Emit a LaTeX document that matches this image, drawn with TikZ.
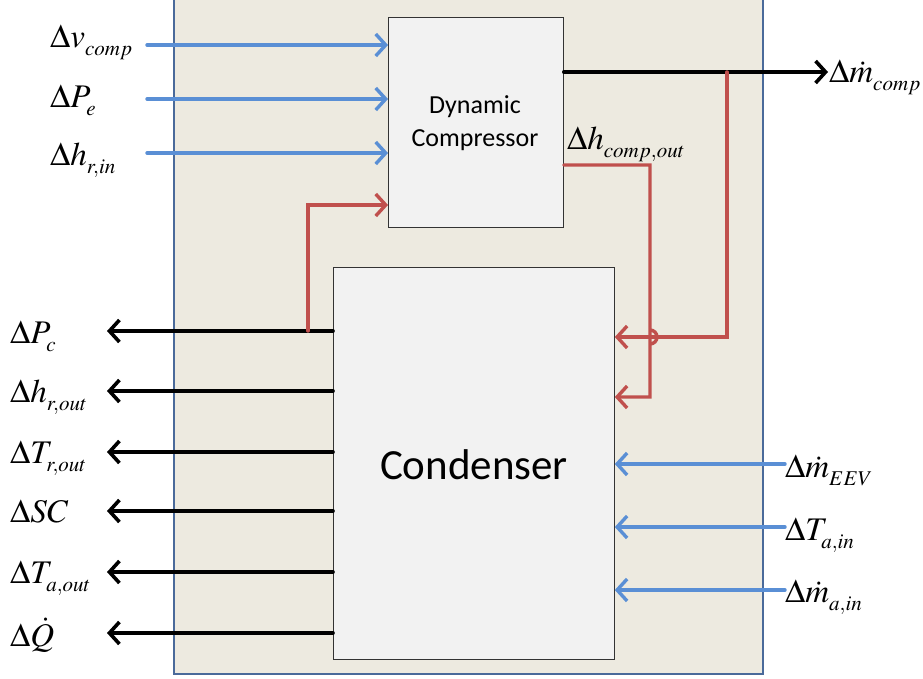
\documentclass[tikz,border=0pt]{standalone}
\usepackage{mathptmx}
\usepackage{fontspec}
\setmainfont{Liberation Serif}
\setsansfont{Carlito}
\DeclareMathSizes{33}{33}{21}{16}
\newcommand{\lsb}[1]{_{\lower4pt\hbox{$\scriptstyle #1$}}}
\usetikzlibrary{arrows.meta}
\definecolor{bgc}{HTML}{EDEAE0}
\definecolor{framec}{HTML}{4A6A9A}
\definecolor{boxc}{HTML}{F2F2F2}
\definecolor{bluel}{HTML}{5A8FD5}
\definecolor{redl}{HTML}{C0504D}
\tikzset{
  lbl/.style={inner sep=0pt, anchor=base west, font=\fontsize{33}{35}\selectfont},
  blk/.style={draw=black!80, fill=boxc, line width=0.8pt, inner sep=0pt, anchor=north west},
  barb/.style={-{Straight Barb[length=10pt,width=22pt]}, line cap=round},
  bluearrow/.style={barb, draw=bluel, line width=3.4pt},
  blackarrow/.style={barb, draw=black, line width=3.6pt},
  redarrow/.style={barb, draw=redl, line width=3.4pt},
}
\begin{document}
\begin{tikzpicture}[x=1pt,y=-1pt]
\useasboundingbox (0,0) rectangle (923,678);
% system frame
\node[draw=framec, fill=bgc, line width=2pt, inner sep=0pt, anchor=north west,
      minimum width=589pt, minimum height=678pt] (sys) at (173,-5) {};
% blocks
\node[blk, minimum width=175pt, minimum height=210pt] (comp) at (388,17) {};
\node[font=\sffamily\fontsize{26}{33}\selectfont, align=center] (comptxt) at (475,123) {Dynamic\\Compressor};
\node[blk, minimum width=281pt, minimum height=392pt] (cond) at (333,267) {};
\node[font=\sffamily\fontsize{43}{46}\selectfont] (condtxt) at (474,465) {Condenser};

% left input labels
\node[lbl] (lv) at (50,47) {$\Delta v\lsb{comp}$};
\node[lbl] (lpe) at (50,107) {$\Delta P\lsb{e}$};
\node[lbl] (lhin) at (50,165) {$\Delta h\lsb{r,in}$};
\coordinate (i1) at (147,45);
\coordinate (i2) at (147,99);
\coordinate (i3) at (147,153);
\draw[bluearrow] (i1) -- (i1 -| comp.west);
\draw[bluearrow] (i2) -- (i2 -| comp.west);
\draw[bluearrow] (i3) -- (i3 -| comp.west);

% left output labels
\node[lbl] (lpc) at (10,343) {$\Delta P\lsb{c}$};
\node[lbl] (lhout) at (10,402) {$\Delta h\lsb{r,out}$};
\node[lbl] (ltrout) at (10,463) {$\Delta T\lsb{r,out}$};
\node[lbl] (lsc) at (10,522) {$\Delta SC$};
\node[lbl] (ltaout) at (10,583) {$\Delta T\lsb{a,out}$};
\node[lbl] (lq) at (10,646) {$\Delta \dot{Q}$};
\coordinate (o1) at (107,331);
\coordinate (o2) at (107,391);
\coordinate (o3) at (107,452);
\coordinate (o4) at (107,511);
\coordinate (o5) at (107,572);
\coordinate (o6) at (107,633);
\draw[blackarrow] (o1 -| cond.west) -- (o1);
\draw[blackarrow] (o2 -| cond.west) -- (o2);
\draw[blackarrow] (o3 -| cond.west) -- (o3);
\draw[blackarrow] (o4 -| cond.west) -- (o4);
\draw[blackarrow] (o5 -| cond.west) -- (o5);
\draw[blackarrow] (o6 -| cond.west) -- (o6);

% right input labels
\node[lbl] (lmeev) at (785,477) {$\Delta \dot{m}\lsb{EEV}$};
\node[lbl] (ltain) at (785,540) {$\Delta T\lsb{a,in}$};
\node[lbl] (lmain) at (785,602) {$\Delta \dot{m}\lsb{a,in}$};
\coordinate (r1) at (785,464);
\coordinate (r2) at (785,527);
\coordinate (r3) at (785,590);
\draw[bluearrow] (r1) -- (r1 -| cond.east);
\draw[bluearrow] (r2) -- (r2 -| cond.east);
\draw[bluearrow] (r3) -- (r3 -| cond.east);

% compressor output mass flow
\node[lbl] (lmcomp) at (829,82) {$\Delta \dot{m}\lsb{comp}$};
\coordinate (mc) at (828,72);
\draw[blackarrow] (mc -| comp.east) -- (mc);

% enthalpy label
\node[lbl] (lhcout) at (567,149) {$\Delta h\lsb{comp,out}$};

% red feedback: condenser pressure to compressor
\coordinate (pcj) at (308,331);
\coordinate (pcc) at (308,205);
\draw[redarrow] (pcj) -- (pcc) -- (pcc -| comp.west);

% red: compressor outlet enthalpy to condenser (with hop)
\coordinate (ho1) at (650,165);
\coordinate (hop) at (650,337);
\coordinate (ho2) at (650,397);
\draw[redarrow] (ho1 -| comp.east) -- (ho1) -- ([yshift=-7pt]hop)
   arc[start angle=-90, end angle=90, radius=7pt] -- (ho2) -- (ho2 -| cond.east);

% red: mass flow to condenser
\coordinate (mf1) at (727,72);
\coordinate (mf2) at (727,337);
\draw[redarrow] (mf1) -- (mf2) -- (mf2 -| cond.east);
\end{tikzpicture}
\end{document}
